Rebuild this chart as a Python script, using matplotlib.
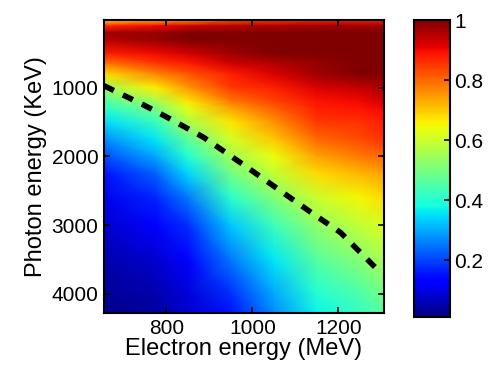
import numpy as np
import matplotlib
matplotlib.use("Agg")
import matplotlib.pyplot as plt

plt.rcParams['font.family'] = ['Liberation Sans', 'DejaVu Sans']

# electron energy columns (MeV) and photon energy rows (KeV) of the map
electron = [655, 775, 850, 950, 1050, 1150, 1250, 1305]
photon = [10, 100, 200, 300, 500, 650, 800, 1000, 1200, 1300, 1500,
          1750, 2000, 2250, 2600, 3000, 3500, 4000, 4280]

# normalised intensity, one list per electron energy column (top to bottom)
col_655 = [0.68, 0.87, 0.97, 0.95, 0.88, 0.78, 0.68, 0.55, 0.45, 0.41, 0.35,
           0.27, 0.21, 0.15, 0.11, 0.08, 0.05, 0.03, 0.02]
col_775 = [0.72, 0.90, 0.98, 0.98, 0.90, 0.85, 0.77, 0.66, 0.55, 0.50, 0.42,
           0.36, 0.30, 0.23, 0.17, 0.12, 0.08, 0.05, 0.04]
col_850 = [0.75, 0.93, 1.00, 1.00, 0.93, 0.88, 0.82, 0.75, 0.67, 0.63, 0.56,
           0.47, 0.40, 0.34, 0.25, 0.18, 0.13, 0.09, 0.08]
col_950 = [0.82, 0.95, 1.00, 1.00, 0.97, 0.93, 0.88, 0.85, 0.78, 0.74, 0.67,
           0.61, 0.55, 0.49, 0.41, 0.33, 0.25, 0.18, 0.15]
col_1050 = [0.85, 0.96, 1.00, 1.00, 1.00, 0.95, 0.92, 0.88, 0.84, 0.81, 0.76,
            0.70, 0.64, 0.59, 0.51, 0.43, 0.36, 0.30, 0.27]
col_1150 = [0.87, 0.97, 1.00, 1.00, 1.00, 0.98, 0.97, 0.92, 0.89, 0.88, 0.85,
            0.80, 0.74, 0.68, 0.60, 0.53, 0.46, 0.40, 0.37]
col_1250 = [0.88, 0.97, 1.00, 1.00, 1.00, 1.00, 1.00, 0.94, 0.90, 0.89, 0.86,
            0.83, 0.78, 0.72, 0.65, 0.59, 0.52, 0.45, 0.42]
col_1305 = [0.88, 0.97, 1.00, 1.00, 1.00, 1.00, 1.00, 0.96, 0.93, 0.90, 0.88,
            0.86, 0.80, 0.74, 0.68, 0.62, 0.56, 0.49, 0.46]

# dashed curve
line_e = [655, 747, 793, 886, 979, 1135, 1205, 1251, 1286]
line_p = [970, 1250, 1400, 1720, 2120, 2810, 3110, 3400, 3620]

cbar_ticks = [0.2, 0.4, 0.6, 0.8, 1]
cbar_labels = ['0.2', '0.4', '0.6', '0.8', '1']

fig = plt.figure(figsize=(4.9, 3.73), dpi=100)
ax = fig.add_axes([0.212, 0.161, 0.571, 0.786])
cax = fig.add_axes([0.845, 0.150, 0.0735, 0.796])

Z = np.array([col_655, col_775, col_850, col_950, col_1050,
              col_1150, col_1250, col_1305]).T
mesh = ax.pcolormesh(electron, photon, Z, shading='gouraud', cmap='jet',
                     vmin=0.01, vmax=1, rasterized=True)
ax.plot(line_e, line_p, color='black', linewidth=4,
        linestyle=(0, (2.0, 1.8)))

ax.set_xlim(655, 1305)
ax.set_ylim(4280, 10)
ax.set_xticks([800, 1000, 1200])
ax.set_yticks([1000, 2000, 3000, 4000])
ax.tick_params(direction='in', top=True, right=True, length=4, width=1.2,
               labelsize=15, pad=4)
for s in ax.spines.values():
    s.set_linewidth(1.5)
ax.set_xlabel('Electron energy (MeV)', fontsize=17, labelpad=0)
ax.set_ylabel('Photon energy (KeV)', fontsize=17, labelpad=3)

cb = fig.colorbar(mesh, cax=cax)
cb.set_ticks(cbar_ticks)
cb.set_ticklabels(cbar_labels)
cb.ax.tick_params(direction='in', length=4, width=1.2, labelsize=15, pad=3)
cb.outline.set_linewidth(1.5)

fig.savefig('out.png', dpi=100)
